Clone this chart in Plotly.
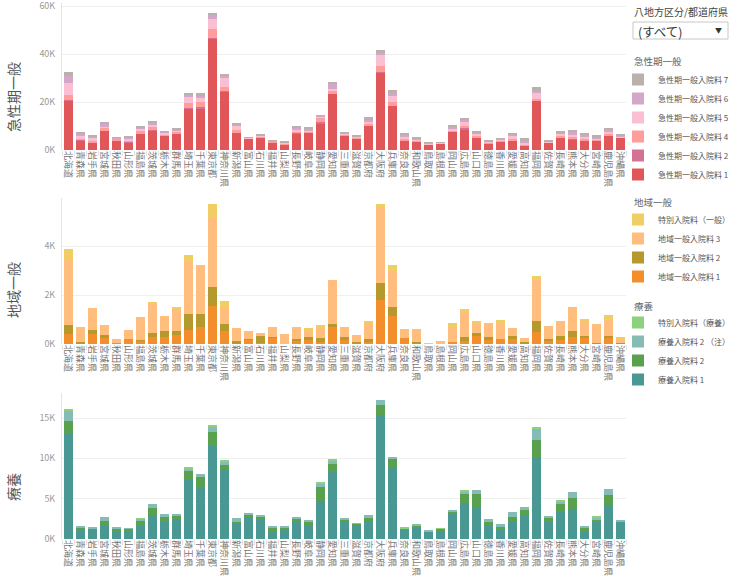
import plotly.graph_objects as go

prefs = ["北海道","青森県","岩手県","宮城県","秋田県","山形県","福島県","茨城県","栃木県","群馬県",
         "埼玉県","千葉県","東京都","神奈川県","新潟県","富山県","石川県","福井県","山梨県","長野県",
         "岐阜県","静岡県","愛知県","三重県","滋賀県","京都府","大阪府","兵庫県","奈良県","和歌山県",
         "鳥取県","島根県","岡山県","広島県","山口県","徳島県","香川県","愛媛県","高知県","福岡県",
         "佐賀県","長崎県","熊本県","大分県","宮崎県","鹿児島県","沖縄県"]

# 急性期一般 (thousands)
acute1 = [20.7,4.1,3.3,7.8,4.1,3.0,6.5,8.2,6.1,6.7,17.3,17.3,46.3,24.2,7.1,4.6,5.0,3.0,2.2,6.9,7.1,11.2,23.4,5.9,4.6,10.3,32.4,18.4,4.1,3.4,2.4,2.6,7.5,8.7,5.4,2.7,3.4,3.8,2.0,20.5,3.0,5.4,4.4,3.8,3.8,5.9,5.0]
acute2 = [0.3,0.1,0,0,0,0.6,0,0.3,0,0.3,0.1,0.7,0.4,0.4,0,0,0.3,0,0.1,0.3,0,0.4,0,0,0.3,0,0.3,0,0,0,0,0,0,0.3,0,0,0,0,0,0.3,0,0,0.3,0.3,0,0,0]
acute4 = [2.0,0.4,0.6,1.4,0.5,0.5,1.5,1.1,0.5,0.5,2.2,1.9,3.7,1.5,1.2,0.3,0.3,0.4,0.3,0.7,0.6,1.8,1.0,0.5,0.3,0.5,2.4,1.8,0.8,0.5,0,0.3,0.6,1.2,0.5,0.3,0.6,0.8,0.3,0.5,0.3,0.5,0.8,0.6,0.5,0.7,0.4]
acute5 = [5.0,1.6,1.2,0.4,0.3,0.6,1.0,1.2,0.7,0.6,2.4,1.6,4.1,3.9,1.8,0.2,0.3,0.3,0.4,0.8,0.6,0.4,1.1,0.5,0.3,1.0,4.6,2.3,0.8,0.5,0.3,0.2,0.8,1.5,1.0,0.4,0.4,1.1,0.7,2.3,0.2,0.9,1.1,1.0,0.4,1.1,0.4]
acute6 = [2.7,0.7,0.6,1.4,0.3,0.6,0.5,0.5,0.3,0.4,1.0,1.2,1.9,1.1,0.7,0.1,0.2,0.2,0.2,0.6,0.5,0.4,1.8,0.2,0.2,0.7,1.1,1.1,0.6,0.5,0.3,0.1,1.0,1.0,0.5,0.2,0.3,0.9,0.6,1.1,0.2,0.6,0.7,0.5,0.4,0.7,0.3]
acute7 = [1.8,0.3,0.4,0.3,0.2,0.3,0.5,0.4,0.2,0.3,0.7,1.0,0.8,0.5,0.3,0.2,0.5,0.2,0.2,0.3,0.4,0.3,1.1,0.3,0.2,1.3,0.8,1.2,0.4,0.3,0.1,0.1,0.3,0.4,0.3,0.2,0.2,0.4,1.2,1.6,0.3,0.3,0.9,0.9,1.3,0.9,0.4]

# 地域一般 (thousands)
reg1 = [0.41,0,0.41,0.25,0.04,0.2,0.14,0.29,0.29,0.37,0.58,0.70,1.56,0.53,0.04,0.18,0.03,0.25,0,0.16,0.16,0.08,0.70,0.2,0.04,0.12,1.81,1.15,0.25,0.04,0,0.04,0.08,0.12,0.33,0.2,0.2,0.2,0.04,0.49,0.16,0.16,0.29,0.25,0.03,0.25,0.01]
reg2 = [0.37,0.08,0.16,0.1,0,0,0.04,0.16,0.25,0.16,0.66,0.53,0.78,0.29,0.08,0.04,0.30,0.04,0,0.04,0.12,0.16,0.12,0.08,0.04,0.08,0.66,0.37,0,0.04,0,0,0,0.16,0.12,0.08,0,0.12,0.04,0.45,0.04,0.16,0.25,0.08,0.01,0.08,0.04]
reg3 = [2.70,0.63,0.88,0.44,0.16,0.37,0.93,1.21,0.62,0.89,2.10,2.01,2.79,0.67,0.53,0.32,0.12,0.41,0.41,0.49,0.29,0.45,1.81,0.41,0.29,0.66,3.16,1.44,0.37,0.53,0,0.08,0.62,1.03,0.37,0.58,0.66,0.33,0.16,1.68,0.53,0.62,0.99,0.62,0.78,0.66,0.12]
regS = [0.38,0,0,0,0,0,0,0.07,0,0.1,0.29,0,0.58,0.27,0,0,0,0,0,0,0.08,0.08,0,0,0,0.08,0.08,0.25,0,0,0.03,0,0.16,0.12,0.12,0,0.12,0,0,0.16,0,0,0,0.08,0,0.21,0.12]

# 療養 (thousands)
ryo1 = [13.0,1.1,1.23,1.73,0.99,0.99,1.65,2.96,2.14,2.47,7.33,6.42,11.52,8.64,1.98,2.63,2.35,0.99,1.23,2.10,1.73,4.69,8.27,2.26,1.77,2.22,15.43,8.89,1.15,1.4,0.99,0.99,3.13,4.44,3.95,1.73,1.15,2.14,2.96,10.12,2.14,3.46,3.70,0.99,2.14,4.12,2.22]
ryo2 = [1.65,0.37,0.04,0.49,0.37,0.25,0.58,0.86,0.58,0.37,1.07,1.23,1.69,0.49,0.12,0.33,0.49,0.41,0.25,0.49,0.37,1.73,0.99,0.2,0.12,0.37,1.23,0.99,0.2,0.2,0,0.25,0.2,1.11,1.6,0.37,0.33,0.58,0.62,2.1,0.45,0.86,1.36,0.49,0.2,1.32,0]
ryo2n = [1.23,0.12,0.2,0.49,0.12,0.12,0.25,0.49,0.37,0.25,0.37,0.37,0.78,0.49,0.49,0.25,0.12,0.12,0.12,0.12,0.25,0.49,0.49,0.16,0.08,0.37,0.62,0.25,0,0.25,0.12,0,0.25,0.37,0.49,0.37,0.37,0.62,0.37,1.48,0.25,0.37,0.74,0.12,0.29,0.74,0.12]
ryoS = [0.2,0,0,0,0,0,0.12,0,0,0,0.12,0,0.12,0.12,0,0,0,0,0,0,0,0.16,0.12,0,0,0,0,0,0.12,0,0,0.12,0,0.12,0,0,0,0,0,0.12,0,0.08,0,0,0.12,0,0]

tick1_vals = [0, 20, 40, 60]; tick1_text = ["0K", "20K", "40K", "60K"]
tick2_vals = [0, 2, 4];        tick2_text = ["0K", "2K", "4K"]
tick3_vals = [0, 5, 10, 15];   tick3_text = ["0K", "5K", "10K", "15K"]

FONT = "Noto Sans CJK JP, Noto Sans, sans-serif"
W, H = 736, 581
ML, MR, MT, MB = 62, 110, 3, 42
PW, PH = W - ML - MR, H - MT - MB

def px(x):
    return (x - ML) / PW

def py(y):
    return (H - MB - y) / PH

series = [
    (acute1, "急性期一般入院料 1", "#E15759", "x", "y", "legend"),
    (acute2, "急性期一般入院料 2", "#D37295", "x", "y", "legend"),
    (acute4, "急性期一般入院料 4", "#FF9D9A", "x", "y", "legend"),
    (acute5, "急性期一般入院料 5", "#FABFD2", "x", "y", "legend"),
    (acute6, "急性期一般入院料 6", "#D4A6C8", "x", "y", "legend"),
    (acute7, "急性期一般入院料 7", "#BAB0AC", "x", "y", "legend"),
    (reg1, "地域一般入院料 1", "#F28E2B", "x2", "y2", "legend2"),
    (reg2, "地域一般入院料 2", "#B6992D", "x2", "y2", "legend2"),
    (reg3, "地域一般入院料 3", "#FFBE7D", "x2", "y2", "legend2"),
    (regS, "特別入院料（一般）", "#F1CE63", "x2", "y2", "legend2"),
    (ryo1, "療養入院料 1", "#499894", "x3", "y3", "legend3"),
    (ryo2, "療養入院料 2", "#59A14F", "x3", "y3", "legend3"),
    (ryo2n, "療養入院料 2 （注）", "#86BCB6", "x3", "y3", "legend3"),
    (ryoS, "特別入院料（療養）", "#8CD17D", "x3", "y3", "legend3"),
]

fig = go.Figure()
for vals, name, color, xa, ya, lg in series:
    fig.add_trace(go.Bar(x=prefs, y=vals, name=name, marker_color=color,
                         marker_line_width=0, xaxis=xa, yaxis=ya, legend=lg))

doms = [(py(150), py(3)), (py(344), py(198)), (py(539), py(393))]
ranges = [[0, 61.25], [0, 5.96], [0, 18.1]]
ticks = [(tick1_vals, tick1_text), (tick2_vals, tick2_text), (tick3_vals, tick3_text)]

layout = dict(
    width=W, height=H, barmode="stack", bargap=0.25,
    margin=dict(l=ML, r=MR, t=MT, b=MB, autoexpand=False),
    paper_bgcolor="white", plot_bgcolor="white",
    font=dict(family=FONT, color="#555"),
)
for i in range(3):
    sfx = "" if i == 0 else str(i + 1)
    layout["xaxis" + sfx] = dict(
        type="category", domain=[0, 1], anchor="y" + sfx,
        range=[-0.5, 46.5], tickangle=90, tickfont=dict(size=9, color="#777"),
        ticks="outside", tickson="boundaries", ticklen=5, tickcolor="#e4e4e4",
        showgrid=False, showline=False, zeroline=False, automargin=False,
    )
    layout["yaxis" + sfx] = dict(
        domain=list(doms[i]), anchor="x" + sfx, range=ranges[i],
        tickvals=ticks[i][0], ticktext=ticks[i][1],
        tickfont=dict(size=9, color="#999"), gridcolor="#efefef", gridwidth=1,
        showline=True, linecolor="#e4e4e4", zeroline=False,
        ticks="outside", ticklen=4, tickcolor="rgba(0,0,0,0)", automargin=False,
        ticklabeloverflow="allow",
    )

leg_common = dict(traceorder="reversed", font=dict(size=8, color="#555"),
                  bgcolor="rgba(0,0,0,0)", xanchor="left", yanchor="top",
                  itemclick=False, itemdoubleclick=False)
layout["legend"] = dict(leg_common, x=px(618), y=py(65))
layout["legend2"] = dict(leg_common, x=px(618), y=py(205))
layout["legend3"] = dict(leg_common, x=px(618), y=py(308))

titles = [("急性期一般", 97), ("地域一般", 290), ("療養", 487)]
annotations = []
for t, yy in titles:
    annotations.append(dict(text=t, xref="paper", yref="paper", x=px(13), y=py(yy),
                            textangle=-90, showarrow=False, xanchor="center", yanchor="middle",
                            font=dict(size=14, color="#555")))
for t, yy in [("急性期一般", 61), ("地域一般", 202), ("療養", 306)]:
    annotations.append(dict(text=t, xref="paper", yref="paper", x=px(632), y=py(yy),
                            showarrow=False, xanchor="left", yanchor="middle",
                            font=dict(size=9.5, color="#666")))
annotations.append(dict(text="八地方区分/都道府県", xref="paper", yref="paper", x=px(632), y=py(12),
                        showarrow=False, xanchor="left", yanchor="middle",
                        font=dict(size=10, color="#444")))
annotations.append(dict(text="(すべて)", xref="paper", yref="paper", x=px(636), y=py(31),
                        showarrow=False, xanchor="left", yanchor="middle",
                        font=dict(size=12.5, color="#333")))
annotations.append(dict(text="▼", xref="paper", yref="paper", x=px(718), y=py(30),
                        showarrow=False, xanchor="center", yanchor="middle",
                        font=dict(size=7, color="#333")))
layout["annotations"] = annotations
layout["shapes"] = [dict(type="rect", xref="paper", yref="paper",
                         x0=px(633), x1=px(728), y0=py(39), y1=py(22),
                         line=dict(color="#c8c8c8", width=1), fillcolor="white")]

fig.update_layout(**layout)
fig.write_html("out.html")
